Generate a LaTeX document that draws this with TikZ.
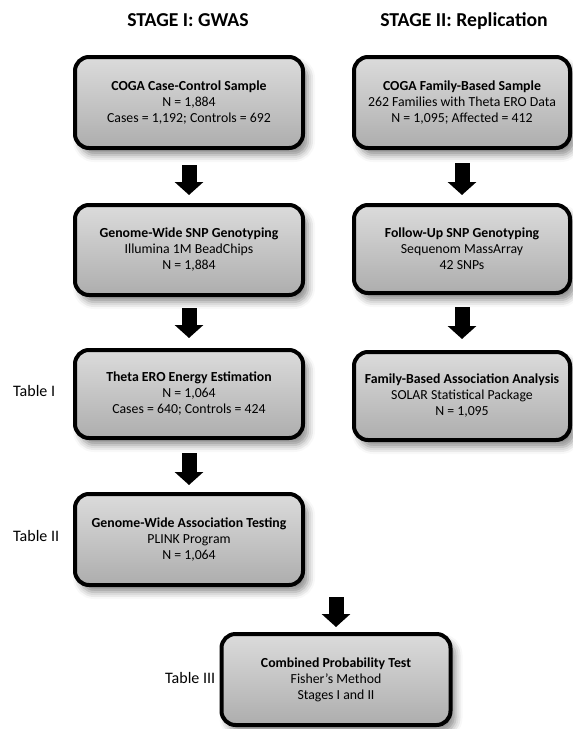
\documentclass[tikz,border=0pt]{standalone}
\usepackage{fontspec}
\setmainfont{Carlito}
\usetikzlibrary{arrows.meta,shadows.blur}
\begin{document}
\begin{tikzpicture}[x=1pt,y=-1pt,
  box/.style={draw=black, line width=4pt, rounded corners=14pt,
    top color=black!14, bottom color=black!32, align=center, inner sep=0pt,
    font=\fontsize{13.8}{16}\selectfont,
    blur shadow={shadow xshift=5pt, shadow yshift=-7pt, shadow blur radius=7pt, shadow opacity=45}},
  leftbox/.style={box, minimum width=228pt},
  rightbox/.style={box, minimum width=216pt},
  stagetitle/.style={anchor=base, inner sep=0pt, font=\fontsize{19.7}{22}\selectfont\bfseries},
  tablelabel/.style={anchor=west, inner sep=0pt, font=\fontsize{16}{18}\selectfont},
  blockarrow/.style={draw=black, line width=15pt, -{Triangle[width=28pt,length=13pt]}}
]
\useasboundingbox (0,0) rectangle (573,729);

\node[stagetitle] (t1) at (188,26) {STAGE I: GWAS};
\node[stagetitle] (t2) at (464,26) {STAGE II: Replication};

\node[leftbox, minimum height=91pt] (b1) at (189,102.5)
  {{\bfseries COGA Case-Control Sample}\\N = 1,884\\Cases = 1,192; Controls = 692};
\node[rightbox, minimum height=91pt] (r1) at (462,102.5)
  {{\bfseries COGA Family-Based Sample}\\262 Families with Theta ERO Data\\N = 1,095; Affected = 412};

\node[leftbox, minimum height=90pt] (b2) at (189,250)
  {{\bfseries Genome-Wide SNP Genotyping}\\Illumina 1M BeadChips\\N = 1,884};
\node[rightbox, minimum height=88pt] (r2) at (462,249)
  {{\bfseries Follow-Up SNP Genotyping}\\Sequenom MassArray\\42 SNPs};

\node[leftbox, minimum height=88pt] (b3) at (189,394)
  {{\bfseries Theta ERO Energy Estimation}\\N = 1,064\\Cases = 640; Controls = 424};
\node[rightbox, minimum height=88pt] (r3) at (462,396)
  {{\bfseries Family-Based Association Analysis}\\SOLAR Statistical Package\\N = 1,095};

\node[leftbox, minimum height=91pt] (b4) at (189,539.5)
  {{\bfseries Genome-Wide Association Testing}\\PLINK Program\\N = 1,064};

\node[box, minimum width=229pt, minimum height=91pt] (b5) at (336,679.5)
  {{\bfseries Combined Probability Test}\\Fisher’s Method\\Stages I and II};

\node[tablelabel] (l1) at (13,391) {Table I};
\node[tablelabel] (l2) at (13,536) {Table II};
\node[tablelabel] (l3) at (165,678) {Table III};

\draw[blockarrow, shorten <=15pt, shorten >=8pt] (b1) -- (b2);
\draw[blockarrow, shorten <=13pt, shorten >=8pt] (r1) -- (r2);
\draw[blockarrow, shorten <=11pt, shorten >=10pt] (b2) -- (b3);
\draw[blockarrow, shorten <=12pt, shorten >=11pt] (r2) -- (r3);
\draw[blockarrow, shorten <=13pt, shorten >=7pt] (b3) -- (b4);
\draw[blockarrow, shorten <=10pt, shorten >=5pt] (b5.north |- b4.south) -- (b5.north);
\end{tikzpicture}
\end{document}
